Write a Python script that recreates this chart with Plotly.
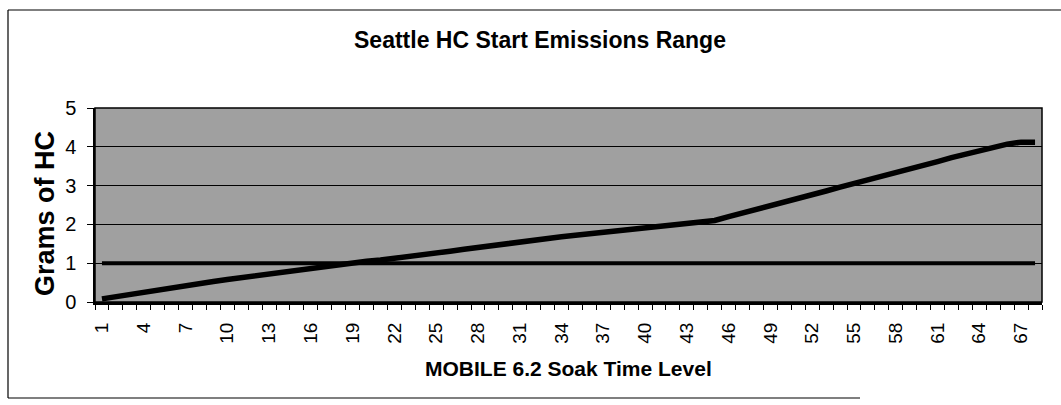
import plotly.graph_objects as go

categories = list(range(1, 69))
hc_grams = [
    0.08, 0.14, 0.20, 0.26, 0.31, 0.37, 0.42, 0.48, 0.53, 0.58,
    0.63, 0.68, 0.73, 0.78, 0.83, 0.88, 0.93, 0.98, 1.02, 1.05,
    1.08, 1.12, 1.16, 1.21, 1.26, 1.31, 1.36, 1.41, 1.46, 1.51,
    1.56, 1.60, 1.64, 1.68, 1.72, 1.76, 1.80, 1.84, 1.88, 1.92,
    1.96, 2.00, 2.03, 2.07, 2.10, 2.20, 2.29, 2.39, 2.48, 2.58,
    2.67, 2.77, 2.86, 2.96, 3.05, 3.15, 3.24, 3.34, 3.43, 3.53,
    3.62, 3.72, 3.81, 3.91, 4.00, 4.07, 4.12, 4.12,
]
reference_level = [1.0] * 68
tick_labels = [str(c) for c in range(1, 69, 3)]
tick_positions = list(range(1, 69, 3))

title_text = "Seattle HC Start Emissions Range"
x_title = "MOBILE 6.2 Soak Time Level"
y_title = "Grams of HC"

W, H = 1061, 405
L, R, T, B = 95, 19, 108, 103

fig = go.Figure()
fig.add_trace(go.Scatter(x=categories, y=reference_level, mode="lines",
                         line=dict(color="black", width=4), showlegend=False,
                         hoverinfo="skip"))
fig.add_trace(go.Scatter(x=categories, y=hc_grams, mode="lines",
                         line=dict(color="black", width=5.5), showlegend=False))

font_family = "Liberation Sans, Arial, sans-serif"

fig.update_layout(
    width=W, height=H,
    margin=dict(l=L, r=R, t=T, b=B),
    paper_bgcolor="white",
    plot_bgcolor="#a0a0a0",
    font=dict(family=font_family, color="black", size=18),
    showlegend=False,
    title=dict(text="<b>" + title_text + "</b>", x=540 / W, xref="container",
               xanchor="center", y=1 - 40 / H, yref="container", yanchor="middle",
               font=dict(size=23, family=font_family, color="black")),
)

fig.update_xaxes(
    range=[0.5, 68.5],
    tickmode="array", tickvals=tick_positions, ticktext=tick_labels,
    tickangle=-90, ticks="", ticklabelstandoff=10,
    tickfont=dict(size=19, family=font_family, color="black"),
    showgrid=False, zeroline=False,
    showline=True, linecolor="black", linewidth=3, mirror=False,
    minor=dict(ticks="outside", tick0=0.5, dtick=1, ticklen=5,
               tickcolor="black", tickwidth=1, showgrid=False),
)
fig.update_yaxes(
    range=[0, 5], tickmode="array", tickvals=[0, 1, 2, 3, 4, 5],
    ticks="outside", ticklen=6, tickcolor="black", tickwidth=1,
    ticklabelstandoff=7,
    tickfont=dict(size=20, family=font_family, color="black"),
    showgrid=True, gridcolor="black", gridwidth=1,
    zeroline=False, showline=True, linecolor="black", linewidth=1.5,
)

# plot frame (top and right)
fig.add_shape(type="rect", xref="paper", yref="paper", x0=0, y0=0, x1=1, y1=1,
              line=dict(color="black", width=1.5), fillcolor="rgba(0,0,0,0)")

pw = W - L - R
ph = H - T - B
def px2x(p):
    return (p - L) / pw
def py2y(p):
    return (H - B - p) / ph

# outer chart border
fig.add_shape(type="line", xref="paper", yref="paper",
              x0=px2x(8), x1=px2x(8), y0=py2y(398), y1=py2y(10),
              line=dict(color="black", width=1.2))
fig.add_shape(type="line", xref="paper", yref="paper",
              x0=px2x(8), x1=px2x(1061), y0=py2y(10), y1=py2y(10),
              line=dict(color="black", width=1.2))
fig.add_shape(type="line", xref="paper", yref="paper",
              x0=px2x(8), x1=px2x(860), y0=py2y(398), y1=py2y(398),
              line=dict(color="black", width=1.2))

fig.add_annotation(text="<b>" + x_title + "</b>", xref="paper", yref="paper",
                   x=px2x(568), y=py2y(368), xanchor="center", yanchor="middle",
                   showarrow=False, font=dict(size=21, family=font_family, color="black"))
fig.add_annotation(text="<b>" + y_title + "</b>", xref="paper", yref="paper",
                   x=px2x(45), y=py2y(214), xanchor="center", yanchor="middle",
                   textangle=-90, showarrow=False,
                   font=dict(size=27, family=font_family, color="black"))

fig.write_html("out.html",
               config={"displayModeBar": False},
               post_script="document.body.style.margin='0';document.body.style.padding='0';document.body.style.overflow='hidden';")
